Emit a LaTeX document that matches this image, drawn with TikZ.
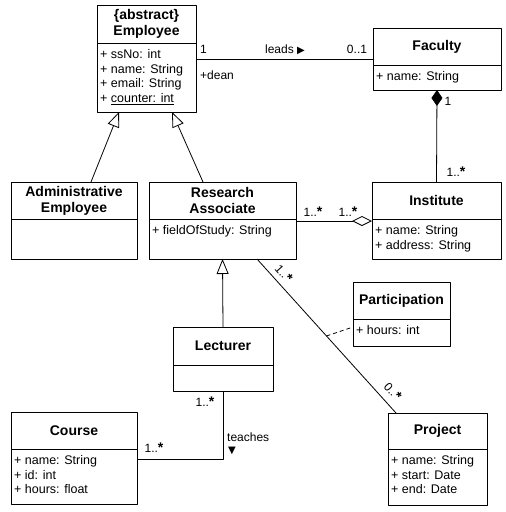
\documentclass[tikz,border=0pt]{standalone}
\usepackage{fontspec}
\setmainfont{Liberation Sans}
\newfontfamily\symfont{DejaVu Sans}
\usetikzlibrary{arrows.meta,calc,positioning}
\newcommand\mstar{{\fontsize{14}{14}\selectfont\bfseries *}}

\begin{document}
\begin{tikzpicture}[x=1pt,y=-1pt,line join=round,
		head/.style={draw,line width=0.8pt,anchor=north west,outer sep=0pt,inner sep=0pt,minimum height=37pt,align=center,font=\fontsize{14}{16}\selectfont\bfseries},
		body/.style={draw,line width=0.8pt,anchor=north west,outer sep=0pt,inner sep=0pt},
		attr/.style={anchor=north west,align=left,inner xsep=3pt,inner ysep=6.5pt,font=\fontsize{12.5}{14.6}\selectfont},
		mult/.style={inner sep=0pt,font=\fontsize{12}{14}\selectfont},
		conn/.style={line width=0.8pt},
		gen/.style={conn,-{Triangle[open,length=15pt,width=12pt]}}]
	\useasboundingbox (0,0) rectangle (506,512);
	% classes
	\node[head,minimum width=99pt,minimum height=38pt] (emp) at (97,5) {\{abstract\}\\Employee};
	\node[body,minimum width=99pt,minimum height=69pt] (emp-b) at (emp.south west) {};
	\node[attr] (emp-t) at (emp-b.north west) {+ ssNo: int\\+ name: String\\+ email: String\\+ \underline{counter: int}};
	\node[head,minimum width=128pt] (fac) at (373,28) {Faculty};
	\node[body,minimum width=128pt,minimum height=25pt] (fac-b) at (fac.south west) {};
	\node[attr] (fac-t) at (fac-b.north west) {+ name: String};
	\node[head,minimum width=126pt] (adm) at (11,182) {Administrative\\Employee};
	\node[body,minimum width=126pt,minimum height=40pt] (adm-b) at (adm.south west) {};
	\node[head,minimum width=147pt] (ra) at (149,182) {Research\\Associate};
	\node[body,minimum width=147pt,minimum height=40pt] (ra-b) at (ra.south west) {};
	\node[attr] (ra-t) at (ra-b.north west) {+ fieldOfStudy: String};
	\node[head,minimum width=129pt] (inst) at (372,182) {Institute};
	\node[body,minimum width=129pt,minimum height=40pt] (inst-b) at (inst.south west) {};
	\node[attr] (inst-t) at (inst-b.north west) {+ name: String\\+ address: String};
	\node[head,minimum width=97pt] (part) at (353,282) {Participation};
	\node[body,minimum width=97pt,minimum height=27pt] (part-b) at (part.south west) {};
	\node[attr] (part-t) at (part-b.north west) {+ hours: int};
	\node[head,minimum width=100pt,minimum height=38pt] (lec) at (173,327) {Lecturer};
	\node[body,minimum width=100pt,minimum height=26pt] (lec-b) at (lec.south west) {};
	\node[head,minimum width=126pt] (crs) at (11,412) {Course};
	\node[body,minimum width=126pt,minimum height=55pt] (crs-b) at (crs.south west) {};
	\node[attr] (crs-t) at (crs-b.north west) {+ name: String\\+ id: int\\+ hours: float};
	\node[head,minimum width=99pt,minimum height=36pt] (proj) at (388,413) {Project};
	\node[body,minimum width=99pt,minimum height=56pt] (proj-b) at (proj.south west) {};
	\node[attr] (proj-t) at (proj-b.north west) {+ name: String\\+ start: Date\\+ end: Date};
	% generalizations
	\draw[gen] ($(adm.north west)+(80,0)$) -- ($(emp-b.south west)+(22,0)$);
	\draw[gen] ($(ra.north west)+(54,0)$) -- ($(emp-b.south west)+(75,0)$);
	\draw[gen] (lec.north) -- (ra-b.south);
	% leads
	\coordinate (lead) at ($(emp-b.north east)+(0,16)$);
	\draw[conn] (lead) -- (lead -| fac.west);
	\node[mult] (lead-m1) at (203.5,49) {1};
	\node[mult] (lead-r) at (217,75) {+dean};
	\node[mult] (lead-n) at (285,50) {leads {\symfont\fontsize{10}{10}\selectfont ▶}};
	\node[mult] (lead-m2) at (357,49) {0..1};
	% composition
	\draw[conn,{Diamond[length=16pt,width=11pt]}-] (fac-b.south) -- (inst.north);
	\node[mult] (comp-m1) at (448,101) {1};
	\node[mult] (comp-m2) at (456,172) {1..\mstar};
	% aggregation
	\coordinate (agg) at ($(ra-b.north east)+(0,2)$);
	\draw[conn,-{Diamond[open,length=20pt,width=10pt]}] (agg) -- (agg -| inst.west);
	\node[mult] (agg-m1) at (313,212) {1..\mstar};
	\node[mult] (agg-m2) at (348,212) {1..\mstar};
	% participation
	\coordinate (rp1) at ($(ra-b.south west)+(108,0)$);
	\coordinate (rp2) at ($(proj.north west)+(8,0)$);
	\draw[conn] (rp1) -- (rp2);
	\draw[conn,dash pattern=on 4pt off 3pt] ($(rp1)!0.5!(rp2)$) -- ($(part-b.north west)+(0,8)$);
	\node[mult,rotate=-48] (rp-m1) at (284,273) {1..\mstar};
	\node[mult,rotate=-48] (rp-m2) at (393,391) {0..\mstar};
	% teaches
	\coordinate (tch) at ($(crs-b.north east)+(0,10)$);
	\draw[conn] (lec-b.south) |- (tch);
	\node[mult] (tch-m1) at (205,402) {1..\mstar};
	\node[mult] (tch-m2) at (154,448) {1..\mstar};
	\node[mult,anchor=west] (tch-n) at (227,437) {teaches};
	\node[mult] (tch-d) at (232,451) {\symfont\fontsize{10}{10}\selectfont ▼};
\end{tikzpicture}
\end{document}
